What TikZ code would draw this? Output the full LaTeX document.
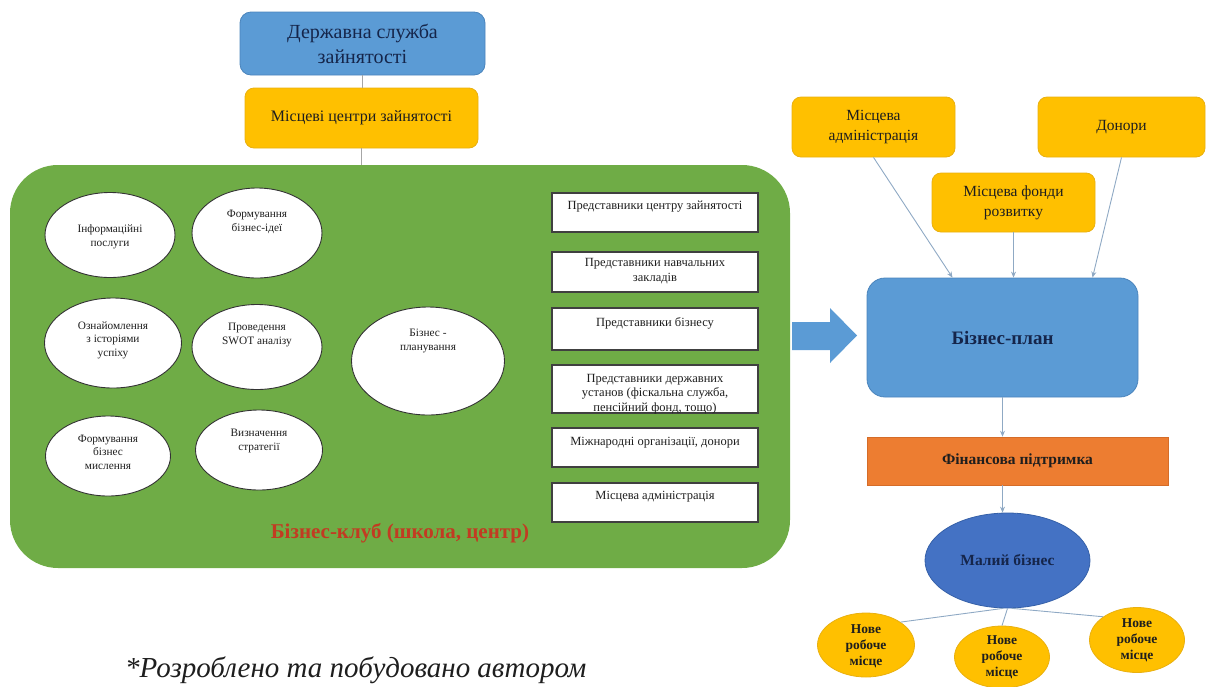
\documentclass[tikz,border=0pt]{standalone}
\usepackage{fontspec}
\setmainfont{Liberation Serif}
\usetikzlibrary{shapes.geometric,arrows.meta}
\definecolor{bluef}{HTML}{5B9BD5}
\definecolor{blued}{HTML}{4A84BC}
\definecolor{yelf}{HTML}{FFC000}
\definecolor{yeld}{HTML}{E9B010}
\definecolor{greenf}{HTML}{6FAC46}
\definecolor{orgf}{HTML}{ED7D31}
\definecolor{orgd}{HTML}{D56C28}
\definecolor{navyf}{HTML}{4472C4}
\definecolor{navyd}{HTML}{3560A8}
\definecolor{clubred}{HTML}{C23B22}
\definecolor{linec}{HTML}{8FA9C4}
\definecolor{txt}{HTML}{1E1E1E}
\definecolor{navytxt}{HTML}{15254A}
\begin{document}
\begin{tikzpicture}[x=1pt,y=-1pt,
  every node/.style={text=txt, align=center, inner sep=0pt},
  bluebox/.style={rounded corners=11pt, fill=bluef, draw=blued, line width=0.8pt},
  yelbox/.style={rounded corners=9pt, fill=yelf, draw=yeld, line width=0.8pt},
  wellipse/.style={ellipse, fill=white, draw=black!80, line width=0.9pt},
  wrect/.style={rectangle, fill=white, draw=black!75, line width=1.3pt},
  yelell/.style={ellipse, fill=yelf, draw=yeld, line width=0.8pt},
  conn/.style={draw=linec, line width=0.9pt},
  arr/.style={conn, -{Stealth[length=6pt,width=5pt]}},
  etxt/.style={font=\fontsize{11.3}{13.5}\selectfont},
  rtxt/.style={font=\fontsize{12.5}{14.5}\selectfont},
  otxt/.style={font=\fontsize{15.5}{20}\selectfont},
  ntxt/.style={font=\fontsize{13.5}{16}\selectfont\bfseries}
]
\useasboundingbox (0,0) rectangle (1212,686);

% top left column
\node[bluebox, minimum width=245pt, minimum height=63pt, font=\fontsize{20}{25}\selectfont, text=navytxt] (gov) at (362.5,43.5) {Державна служба\\зайнятості};
\node[yelbox, minimum width=233pt, minimum height=60pt, font=\fontsize{16}{18}\selectfont] (mc) at (361.5,118) {Місцеві центри зайнятості};

% business club
\node[rectangle, rounded corners=48pt, fill=greenf, minimum width=780pt, minimum height=403pt] (club) at (400,366.5) {};
\draw[draw=black!35, line width=0.9pt] (gov.south) -- (gov.south |- mc.north);
\draw[draw=black!35, line width=0.9pt] (mc.south) -- (mc.south |- club.north);

% ellipses
\node[wellipse, minimum width=130pt, minimum height=85pt] (e1) at (110,235) {};
\node[etxt] at (110,237) {Інформаційні\\послуги};
\node[wellipse, minimum width=130pt, minimum height=90pt] (e2) at (257,233) {};
\node[etxt] at (257,222) {Формування\\бізнес-ідеї};
\node[wellipse, minimum width=137pt, minimum height=90pt] (e3) at (113,343) {};
\node[etxt] at (113,340) {Ознайомлення\\з історіями\\успіху};
\node[wellipse, minimum width=130pt, minimum height=85pt] (e4) at (257,347) {};
\node[etxt] at (257,335) {Проведення\\SWOT аналізу};
\node[wellipse, minimum width=153pt, minimum height=108pt] (e5) at (428,361) {};
\node[etxt] at (428,341) {Бізнес -\\планування};
\node[wellipse, minimum width=125pt, minimum height=80pt] (e6) at (108,456) {};
\node[etxt] at (108,452) {Формування\\бізнес\\мислення};
\node[wellipse, minimum width=127pt, minimum height=80pt] (e7) at (259,450) {};
\node[etxt] at (259,441) {Визначення\\стратегії};

% rectangles
\node[wrect, minimum width=206pt, minimum height=39pt] (r1) at (655,212.5) {};
\node[rtxt] at (655,207) {Представники центру зайнятості};
\node[wrect, minimum width=206pt, minimum height=40pt] (r2) at (655,272) {};
\node[rtxt] at (655,271) {Представники навчальних\\закладів};
\node[wrect, minimum width=206pt, minimum height=42pt] (r3) at (655,329) {};
\node[rtxt] at (655,323) {Представники бізнесу};
\node[wrect, minimum width=206pt, minimum height=48pt] (r4) at (655,389) {};
\node[rtxt] at (655,394) {Представники державних\\установ (фіскальна служба,\\пенсійний фонд, тощо)};
\node[wrect, minimum width=206pt, minimum height=39pt] (r5) at (655,447.5) {};
\node[rtxt] at (655,443) {Міжнародні організації, донори};
\node[wrect, minimum width=206pt, minimum height=39pt] (r6) at (655,502.5) {};
\node[rtxt] at (655,497) {Місцева адміністрація};

\node[font=\fontsize{21}{23}\selectfont\bfseries, text=clubred] (clubname) at (400,533) {Бізнес-клуб (школа, центр)};

% right side
\node[yelbox, minimum width=163pt, minimum height=60pt, otxt] (la) at (873.5,127) {Місцева\\адміністрація};
\node[yelbox, minimum width=167pt, minimum height=60pt, otxt] (don) at (1121.5,127) {Донори};
\node[yelbox, minimum width=163pt, minimum height=59pt, otxt] (fond) at (1013.5,202.5) {Місцева фонди\\розвитку};

\node[bluebox, rounded corners=18pt, minimum width=271pt, minimum height=119pt, font=\fontsize{19}{21}\selectfont\bfseries, text=navytxt] (bp) at (1002.5,337.5) {Бізнес-план};

\draw[arr] (la.south) -- ([xshift=-50pt]bp.north);
\draw[arr] (fond.south) -- (fond.south |- bp.north);
\draw[arr] (don.south) -- ([xshift=90pt]bp.north);

% block arrow from club to business plan
\fill[bluef] (792,322) -- (830,322) -- (830,308) -- (857,335.5) -- (830,363) -- (830,350) -- (792,350) -- cycle;

\node[rectangle, fill=orgf, draw=orgd, line width=0.6pt, minimum width=301pt, minimum height=48pt, font=\fontsize{15.5}{17}\selectfont\bfseries] (fin) at (1017.5,461) {Фінансова підтримка};
\node[ellipse, fill=navyf, draw=navyd, line width=0.8pt, minimum width=165pt, minimum height=95pt, font=\fontsize{15.5}{17}\selectfont\bfseries, text=navytxt] (mb) at (1007.5,560.5) {Малий бізнес};

\draw[arr] (bp.south) -- (bp.south |- fin.north);
\draw[arr] (bp.south |- fin.south) -- (bp.south |- mb.north);

\node[yelell, minimum width=97pt, minimum height=64pt] (n1) at (866,645) {};
\node[ntxt] at (866,646) {Нове\\робоче\\місце};
\node[yelell, minimum width=95pt, minimum height=62pt] (n2) at (1002,657) {};
\node[ntxt] at (1002,657) {Нове\\робоче\\місце};
\node[yelell, minimum width=95pt, minimum height=65pt] (n3) at (1137,640) {};
\node[ntxt] at (1137,640) {Нове\\робоче\\місце};

\draw[conn] (mb.265) -- (n1.north east);
\draw[conn] (mb.south) -- (n2.north);
\draw[conn] (mb.275) -- (n3.north west);

\node[font=\fontsize{29}{32}\selectfont\itshape, anchor=base west] (note) at (125,677) {*Розроблено та побудовано автором};
\end{tikzpicture}
\end{document}
